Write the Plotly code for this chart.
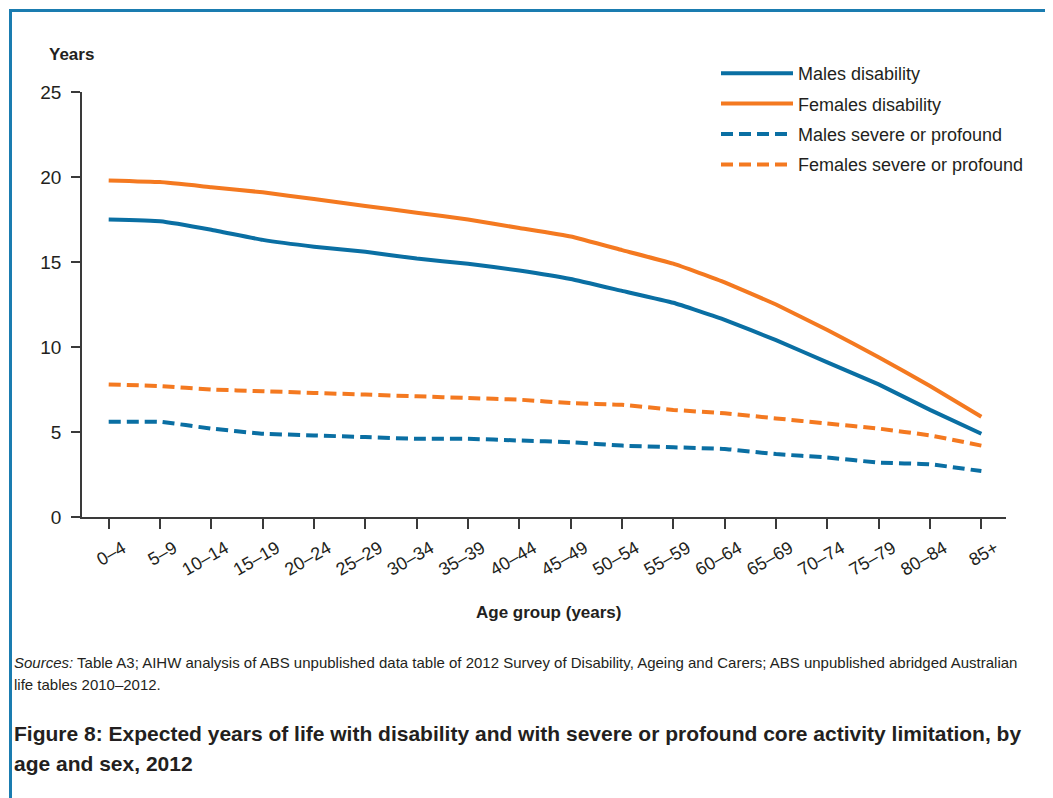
import plotly.graph_objects as go

age_groups = ["0–4", "5–9", "10–14", "15–19", "20–24", "25–29", "30–34", "35–39", "40–44",
              "45–49", "50–54", "55–59", "60–64", "65–69", "70–74", "75–79", "80–84", "85+"]

males_disability = [17.5, 17.4, 16.9, 16.3, 15.9, 15.6, 15.2, 14.9, 14.5,
                    14.0, 13.3, 12.6, 11.6, 10.4, 9.1, 7.8, 6.3, 4.9]
females_disability = [19.8, 19.7, 19.4, 19.1, 18.7, 18.3, 17.9, 17.5, 17.0,
                      16.5, 15.7, 14.9, 13.8, 12.5, 11.0, 9.4, 7.7, 5.9]
males_severe = [5.6, 5.6, 5.2, 4.9, 4.8, 4.7, 4.6, 4.6, 4.5,
                4.4, 4.2, 4.1, 4.0, 3.7, 3.5, 3.2, 3.1, 2.7]
females_severe = [7.8, 7.7, 7.5, 7.4, 7.3, 7.2, 7.1, 7.0, 6.9,
                  6.7, 6.6, 6.3, 6.1, 5.8, 5.5, 5.2, 4.8, 4.2]

y_ticks = [0, 5, 10, 15, 20, 25]

BLUE = "#0a6fa3"
ORANGE = "#f47920"
FRAME = "#1a7cb0"
TEXT = "#231f20"
AXIS = "#3a3a3a"
FONT = "Liberation Sans Narrow, Liberation Sans, Arial, sans-serif"

# the page body has an 8px margin, so work in window pixels minus that
PAD = 8
W, H = 1053 - PAD, 798 - PAD
# plot area in window pixels
L, R, T, B = 82, 1006, 92, 517


def px_x(p):
    return (p - L) / (R - L)


def px_y(p):
    return (B - p) / (B - T)


fig = go.Figure()


def add_line(y, name, color, dash):
    fig.add_trace(
        go.Scatter(
            x=age_groups,
            y=y,
            name=name,
            legendgroup=name,
            mode="lines",
            line=dict(color=color, width=4, dash=dash, shape="spline", smoothing=0.3),
        )
    )


add_line(males_disability, "Males disability", BLUE, "solid")
add_line(females_disability, "Females disability", ORANGE, "solid")
add_line(males_severe, "Males severe or profound", BLUE, "12px,6px")
add_line(females_severe, "Females severe or profound", ORANGE, "12px,6px")

fig.update_layout(
    width=W,
    height=H,
    margin=dict(l=L - PAD, r=W - (R - PAD), t=T - PAD, b=H - (B - PAD), pad=0),
    paper_bgcolor="white",
    plot_bgcolor="white",
    font=dict(family=FONT, color=TEXT, size=18),
    showlegend=True,
    legend=dict(
        x=px_x(716),
        y=px_y(55),
        xanchor="left",
        yanchor="top",
        bgcolor="rgba(0,0,0,0)",
        font=dict(size=18, family=FONT, color=TEXT),
        itemwidth=72,
        tracegroupgap=4,
    ),
    xaxis=dict(
        type="category",
        range=[-0.52, 17.48],
        showline=True,
        linecolor=AXIS,
        linewidth=1.5,
        ticks="outside",
        ticklen=10,
        tickwidth=1.5,
        tickcolor=AXIS,
        tickangle=-30,
        ticklabelshift=14,
        ticklabelstandoff=2,
        tickfont=dict(size=18),
        showgrid=False,
        zeroline=False,
    ),
    yaxis=dict(
        range=[0, 25],
        tickvals=y_ticks,
        showline=True,
        linecolor=AXIS,
        linewidth=1.5,
        ticks="outside",
        ticklen=9,
        tickwidth=1.5,
        tickcolor=AXIS,
        ticklabelstandoff=6,
        tickfont=dict(size=19),
        showgrid=False,
        zeroline=False,
    ),
)

annotations = [
    dict(x=px_x(47), y=px_y(55), text="<b>Years</b>", xanchor="left", yanchor="middle",
         font=dict(size=17)),
    dict(x=px_x(548), y=px_y(612), text="<b>Age group (years)</b>", xanchor="center",
         yanchor="middle", font=dict(size=17)),
    dict(x=px_x(12), y=px_y(662),
         text="<i>Sources:</i> Table A3; AIHW analysis of ABS unpublished data table of 2012 Survey of "
              "Disability, Ageing and Carers; ABS unpublished abridged Australian",
         xanchor="left", yanchor="middle", font=dict(size=15)),
    dict(x=px_x(12), y=px_y(684), text="life tables 2010–2012.", xanchor="left",
         yanchor="middle", font=dict(size=15)),
    dict(x=px_x(12), y=px_y(733),
         text="<b>Figure 8: Expected years of life with disability and with severe or profound "
              "core activity limitation, by</b>",
         xanchor="left", yanchor="middle", font=dict(size=21)),
    dict(x=px_x(12), y=px_y(763), text="<b>age and sex, 2012</b>", xanchor="left",
         yanchor="middle", font=dict(size=21)),
]
for a in annotations:
    a.update(xref="paper", yref="paper", showarrow=False)
fig.update_layout(annotations=annotations)

# blue frame around the figure (right and bottom edges fall outside the page)
fig.add_shape(
    type="rect", xref="paper", yref="paper",
    x0=px_x(10.5), y0=px_y(900), x1=px_x(1100), y1=px_y(10.5),
    line=dict(color=FRAME, width=3), fillcolor="rgba(0,0,0,0)", layer="below",
)

fig.write_html("out.html")
